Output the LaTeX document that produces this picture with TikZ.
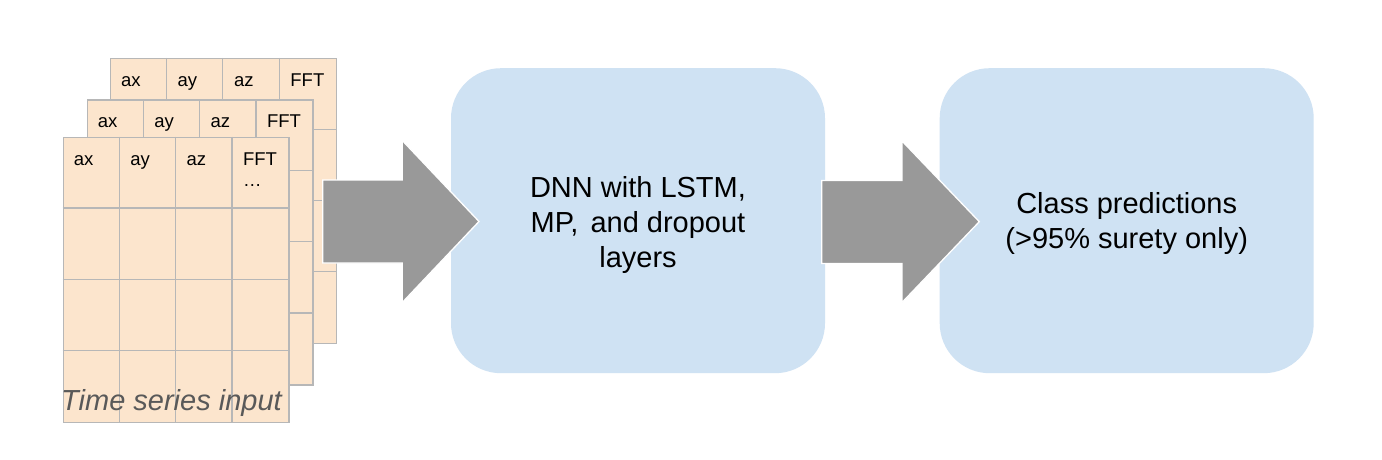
\documentclass[tikz,border=0pt]{standalone}
\usepackage{fontspec}
\setmainfont{Liberation Sans}
\usetikzlibrary{calc}
\definecolor{peach}{HTML}{FCE5CD}
\definecolor{gridgray}{HTML}{B7B7B7}
\definecolor{boxblue}{HTML}{CFE2F3}
\definecolor{arrowgray}{HTML}{999999}
\definecolor{captiongray}{HTML}{595959}
\tikzset{
  tablebox/.style={fill=peach, draw=gridgray, line width=1.2pt, inner sep=0pt,
    minimum width=225.6pt, minimum height=285pt, anchor=north west},
  gridline/.style={draw=gridgray, line width=1.2pt},
  celllabel/.style={anchor=base west, inner sep=0pt, font=\fontsize{18.5}{21}\selectfont},
  procbox/.style={fill=boxblue, draw=none, rounded corners=50pt, minimum width=374pt,
    minimum height=305pt},
  boxtext/.style={align=center, inner sep=0pt, font=\fontsize{29}{35}\selectfont},
  caption/.style={anchor=base west, inner sep=0pt, text=captiongray,
    font=\fontsize{29}{32}\selectfont\itshape},
  blockarrow/.style={fill=arrowgray, draw=white, line width=1.3pt, line join=miter}
}
\newcommand\datatable[3]{%
  \node[tablebox] (#1) at (#2,#3) {};
  \foreach \i in {1,2,3} {
    \draw[gridline] ($(#1.north west)+(\i*56.4,0)$) -- ($(#1.south west)+(\i*56.4,0)$);
    \draw[gridline] ($(#1.north west)+(0,\i*71.25)$) -- ($(#1.north east)+(0,\i*71.25)$);
  }
  \node[celllabel] (#1-ax) at ($(#1.north west)+(11,28.5)$) {ax};
  \node[celllabel] (#1-ay) at ($(#1.north west)+(11+56.4,28.5)$) {ay};
  \node[celllabel] (#1-az) at ($(#1.north west)+(11+112.8,28.5)$) {az};
  \node[celllabel] (#1-fft) at ($(#1.north west)+(11+169.2,28.5)$) {FFT};
}
\begin{document}
\begin{tikzpicture}[x=1pt,y=-1pt]
\useasboundingbox (0,0) rectangle (1382,460);
\fill[white] (0,0) rectangle (1382,460);

% stacked input tables
\datatable{tback}{110}{58}
\datatable{tmid}{86.7}{99.3}
\datatable{tfront}{62.7}{136.7}
\node[celllabel] (dots) at ($(tfront.north west)+(11+169.2,50)$) {…};
\node[caption] (cap) at (61,410.7) {Time series input};

% processing boxes
\node[procbox] (dnn) at (638,220.7) {};
\node[boxtext] (dnntext) at ($(dnn.center)+(0,4)$) {DNN with LSTM,\\MP,\hspace{4pt} and dropout\\layers};
\node[procbox] (pred) at (1126.7,220.7) {};
\node[boxtext] (predtext) at ($(pred.center)+(0,3)$) {Class predictions\\(>95\% surety only)};

% block arrows
\draw[blockarrow] (322.7,180) -- (402.3,180) -- (402.3,140.5) -- (479,221.5)
  -- (402.3,302.5) -- (402.3,263) -- (322.7,263) -- cycle;
\draw[blockarrow] (821.7,180.5) -- (902,180.5) -- (902,141) -- (979.3,221.7)
  -- (902,302.5) -- (902,263.5) -- (821.7,263.5) -- cycle;
\end{tikzpicture}
\end{document}
